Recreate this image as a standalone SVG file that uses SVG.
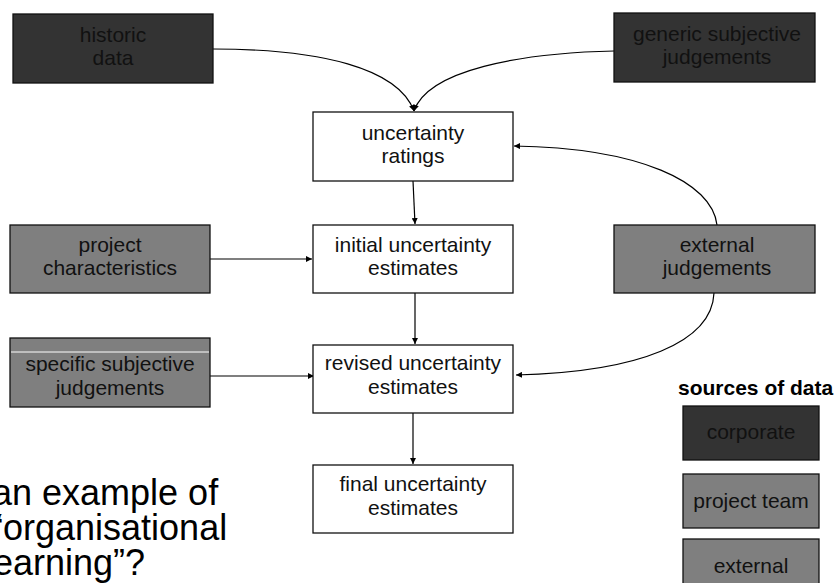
<svg xmlns="http://www.w3.org/2000/svg" width="838" height="583" viewBox="0 0 838 583">
<style>
text{font-family:"Liberation Sans",Arial,sans-serif;font-size:21px;fill:#111;text-anchor:middle}
.box{stroke:#111;stroke-width:1.3}
.corp{fill:#333333}
.team{fill:#7f7f7f}
.white{fill:#ffffff}
.c{fill:none;stroke:#000;stroke-width:1.2}
.big{font-size:36px;text-anchor:start;fill:#000}
.bold{font-weight:bold;text-anchor:start;fill:#000}
</style>
<defs>
<marker id="ah" viewBox="0 0 10 10" refX="10" refY="5" markerWidth="6" markerHeight="6" markerUnits="userSpaceOnUse" orient="auto">
<path d="M0,0 L10,5 L0,10 z" fill="#000"/>
</marker>
</defs>
<g id="connectors">
<path class="c" d="M213,49 C320,49 398,68 414,111" marker-end="url(#ah)"/>
<path class="c" d="M614,51 C520,53 428,70 414,111" marker-end="url(#ah)"/>
<path class="c" d="M717,225 C712,182 640,148 514,146" marker-end="url(#ah)"/>
<path class="c" d="M714,293 C712,342 640,372 516,375" marker-end="url(#ah)"/>
<path class="c" d="M413,181 L415,224" marker-end="url(#ah)"/>
<path class="c" d="M415,293 L415,344" marker-end="url(#ah)"/>
<path class="c" d="M413,413 L413,464" marker-end="url(#ah)"/>
<path class="c" d="M210,259 L312,259" marker-end="url(#ah)"/>
<path class="c" d="M210,376 L314,376" marker-end="url(#ah)"/>
</g>
<g id="historic">
<rect class="box corp" x="13" y="14" width="200" height="69"/>
<text x="113" y="42">historic</text>
<text x="113" y="65">data</text>
</g>
<g id="generic">
<rect class="box corp" x="614" y="13" width="201" height="69"/>
<text x="717" y="41">generic subjective</text>
<text x="717" y="64">judgements</text>
</g>
<g id="ratings">
<rect class="box white" x="313" y="112" width="200" height="69"/>
<text x="413" y="140">uncertainty</text>
<text x="413" y="163">ratings</text>
</g>
<g id="project">
<rect class="box team" x="10" y="225" width="200" height="68"/>
<text x="110" y="252">project</text>
<text x="110" y="275">characteristics</text>
</g>
<g id="initial">
<rect class="box white" x="313" y="225" width="200" height="68"/>
<text x="413" y="252">initial uncertainty</text>
<text x="413" y="275">estimates</text>
</g>
<g id="external">
<rect class="box team" x="614" y="225" width="201" height="68"/>
<text x="717" y="252">external</text>
<text x="717" y="275">judgements</text>
</g>
<g id="specific">
<rect class="box team" x="10" y="338" width="200" height="69"/>
<line x1="11" y1="352" x2="209" y2="352" stroke="#fff" stroke-width="1"/>
<text x="110" y="371">specific subjective</text>
<text x="110" y="395">judgements</text>
</g>
<g id="revised">
<rect class="box white" x="313" y="345" width="200" height="68"/>
<text x="413" y="370">revised uncertainty</text>
<text x="413" y="394">estimates</text>
</g>
<g id="final">
<rect class="box white" x="313" y="465" width="200" height="68"/>
<text x="413" y="491">final uncertainty</text>
<text x="413" y="515">estimates</text>
</g>
<g id="legend">
<text class="bold" x="678" y="395">sources of data</text>
<rect class="box corp" x="683" y="406" width="136" height="54"/>
<text x="751" y="439">corporate</text>
<rect class="box team" x="683" y="474" width="136" height="54"/>
<text x="751" y="508">project team</text>
<rect class="box team" x="683" y="539" width="136" height="54"/>
<text x="751" y="573">external</text>
</g>
<g id="question">
<text class="big" x="-8" y="505">an example of</text>
<text class="big" x="-9" y="540">“organisational</text>
<text class="big" x="-15" y="575">learning”?</text>
</g>
</svg>
